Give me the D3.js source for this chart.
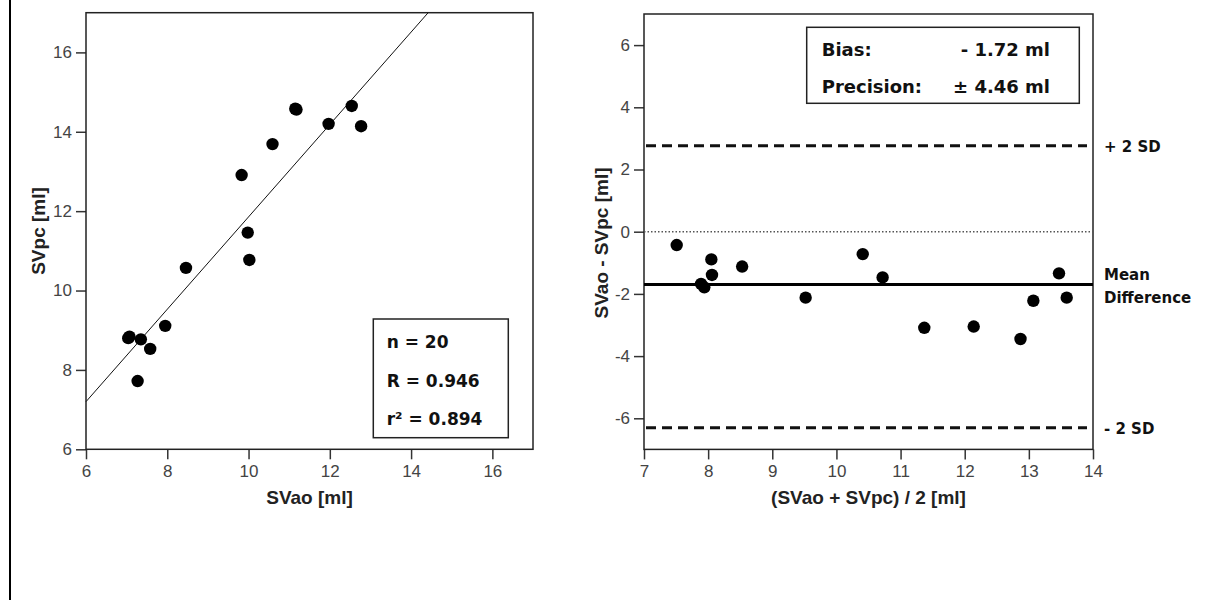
<!DOCTYPE html>
<html>
<head>
<meta charset="utf-8">
<script src="https://cdn.jsdelivr.net/npm/d3@7"></script>
<style>
  body { margin: 0; background: #fff; }
  svg { display: block; }
  .title { font-family: "Liberation Sans", Arial, sans-serif; font-size: 19px; font-weight: bold; fill: #222; }
  .note { font-family: "DejaVu Sans", sans-serif; font-weight: bold; fill: #111; }
</style>
</head>
<body>
<svg width="1208" height="600"></svg>
<script>
// scatter: SVao vs SVpc
var svao = [7.04, 7.07, 7.35, 7.58, 7.27, 7.95, 8.46, 9.83, 9.98, 10.02, 10.59, 11.15, 11.18, 11.97, 12.54, 12.77];
var svpc = [8.80, 8.84, 8.77, 8.53, 7.72, 9.11, 10.57, 12.91, 11.46, 10.77, 13.69, 14.58, 14.56, 14.20, 14.65, 14.14];
var fitLine = [[6, 7.2], [14.42, 17]];
var scatterTicks = [6, 8, 10, 12, 14, 16];
var statsText = ["n = 20", "R = 0.946", "r\u00b2 = 0.894"];

// bland-altman
var baMean = [7.51, 7.89, 7.94, 8.05, 8.06, 8.53, 9.52, 10.41, 10.72, 11.37, 12.14, 12.87, 13.07, 13.47, 13.59];
var baDiff = [-0.43, -1.68, -1.79, -0.89, -1.39, -1.12, -2.12, -0.72, -1.47, -3.09, -3.05, -3.45, -2.22, -1.34, -2.12];
var baXTicks = [7, 8, 9, 10, 11, 12, 13, 14];
var baYTicks = [-6, -4, -2, 0, 2, 4, 6];
var bias = -1.7;
var upperSD = 2.76;
var lowerSD = -6.3;

var svg = d3.select("svg");

function plain(d) { return String(d); }

function styleAxis(g) {
  g.select(".domain").remove();
  g.selectAll(".tick line").attr("stroke", "#333").attr("stroke-width", 1.5);
  g.selectAll(".tick text")
     .attr("fill", "#444")
     .style("font-family", "'Liberation Sans', Arial, sans-serif")
     .style("font-size", "17px");
}

// left border line of the figure
svg.append("line")
   .attr("x1", 10).attr("x2", 10).attr("y1", 0).attr("y2", 600)
   .attr("stroke", "#000").attr("stroke-width", 2);

// ---------- left panel ----------
var x1 = d3.scaleLinear().domain([6, 17]).range([86, 533]);
var y1 = d3.scaleLinear().domain([6, 17]).range([449.3, 12.7]);

var g1 = svg.append("g");

g1.append("g")
   .attr("transform", "translate(0,449.3)")
   .call(d3.axisBottom(x1).tickValues(scatterTicks).tickFormat(plain).tickSize(10).tickPadding(6))
   .call(styleAxis);

g1.append("g")
   .attr("transform", "translate(86,0)")
   .call(d3.axisLeft(y1).tickValues(scatterTicks).tickFormat(plain).tickSize(10).tickPadding(4))
   .call(styleAxis);

g1.append("rect")
   .attr("x", x1(6)).attr("y", y1(17))
   .attr("width", x1(17) - x1(6)).attr("height", y1(6) - y1(17))
   .attr("fill", "none").attr("stroke", "#222").attr("stroke-width", 1.5);

g1.append("path")
   .datum(fitLine)
   .attr("d", d3.line().x(function(d) { return x1(d[0]); }).y(function(d) { return y1(d[1]); }))
   .attr("stroke", "#111").attr("stroke-width", 1).attr("fill", "none");

g1.selectAll("circle")
   .data(svao)
   .enter()
   .append("circle")
   .attr("cx", function(d) { return x1(d); })
   .attr("cy", function(d, i) { return y1(svpc[i]); })
   .attr("r", 6.2)
   .attr("fill", "#000");

g1.append("rect")
   .attr("x", 373.3).attr("y", 319)
   .attr("width", 135).attr("height", 118.7)
   .attr("fill", "#fff").attr("stroke", "#222").attr("stroke-width", 1.5);

g1.selectAll("text.stat")
   .data(statsText)
   .enter()
   .append("text")
   .attr("class", "note stat")
   .attr("x", 386.7)
   .attr("y", function(d, i) { return 348 + i * 38.5; })
   .style("font-size", "17px")
   .text(function(d) { return d; });

g1.append("text")
   .attr("class", "title")
   .attr("x", 309.5).attr("y", 504)
   .attr("text-anchor", "middle")
   .text("SVao [ml]");

g1.append("text")
   .attr("class", "title")
   .attr("transform", "translate(45,231) rotate(-90)")
   .attr("text-anchor", "middle")
   .text("SVpc [ml]");

// ---------- right panel ----------
var x2 = d3.scaleLinear().domain([7, 14]).range([644, 1093]);
var y2 = d3.scaleLinear().domain([-7, 7]).range([449.4, 14]);

var g2 = svg.append("g");

g2.append("g")
   .attr("transform", "translate(0,449.4)")
   .call(d3.axisBottom(x2).tickValues(baXTicks).tickFormat(plain).tickSize(10).tickPadding(6))
   .call(styleAxis);

g2.append("g")
   .attr("transform", "translate(644,0)")
   .call(d3.axisLeft(y2).tickValues(baYTicks).tickFormat(plain).tickSize(10).tickPadding(4))
   .call(styleAxis);

g2.append("rect")
   .attr("x", x2(7)).attr("y", y2(7))
   .attr("width", x2(14) - x2(7)).attr("height", y2(-7) - y2(7))
   .attr("fill", "none").attr("stroke", "#222").attr("stroke-width", 1.5);

// zero line (dotted)
g2.append("line")
   .attr("x1", x2(7)).attr("x2", x2(14))
   .attr("y1", y2(0)).attr("y2", y2(0))
   .attr("stroke", "#555").attr("stroke-width", 1.5).attr("stroke-dasharray", "1.5,2");

// limits of agreement (dashed)
[upperSD, lowerSD].forEach(function(v) {
  g2.append("line")
     .attr("x1", x2(7) + 2).attr("x2", x2(14) - 6)
     .attr("y1", y2(v)).attr("y2", y2(v))
     .attr("stroke", "#111").attr("stroke-width", 3).attr("stroke-dasharray", "10,6");
});

// mean difference
g2.append("line")
   .attr("x1", x2(7)).attr("x2", x2(14))
   .attr("y1", y2(bias)).attr("y2", y2(bias))
   .attr("stroke", "#000").attr("stroke-width", 3);

g2.selectAll("circle")
   .data(baMean)
   .enter()
   .append("circle")
   .attr("cx", function(d) { return x2(d); })
   .attr("cy", function(d, i) { return y2(baDiff[i]); })
   .attr("r", 6.2)
   .attr("fill", "#000");

g2.append("rect")
   .attr("x", 806.7).attr("y", 27.3)
   .attr("width", 272.6).attr("height", 76)
   .attr("fill", "#fff").attr("stroke", "#222").attr("stroke-width", 1.5);

g2.append("text").attr("class", "note").attr("x", 821.7).attr("y", 56)
   .style("font-size", "18px").text("Bias:");
g2.append("text").attr("class", "note").attr("x", 1050).attr("y", 56)
   .attr("text-anchor", "end").style("font-size", "18px").text("- 1.72 ml");
g2.append("text").attr("class", "note").attr("x", 821.7).attr("y", 93)
   .style("font-size", "18px").text("Precision:");
g2.append("text").attr("class", "note").attr("x", 1050).attr("y", 93)
   .attr("text-anchor", "end").style("font-size", "18px").text("\u00b1 4.46 ml");

// side labels
g2.append("text").attr("class", "note").attr("x", 1104).attr("y", y2(upperSD) + 6)
   .style("font-size", "15px").text("+ 2 SD");
g2.append("text").attr("class", "note").attr("x", 1104).attr("y", 280)
   .style("font-size", "15px").text("Mean");
g2.append("text").attr("class", "note").attr("x", 1104).attr("y", 303)
   .style("font-size", "15px").text("Difference");
g2.append("text").attr("class", "note").attr("x", 1104).attr("y", y2(lowerSD) + 6)
   .style("font-size", "15px").text("- 2 SD");

g2.append("text")
   .attr("class", "title")
   .attr("x", 868.5).attr("y", 504)
   .attr("text-anchor", "middle")
   .text("(SVao + SVpc) / 2 [ml]");

g2.append("text")
   .attr("class", "title")
   .attr("transform", "translate(608,243) rotate(-90)")
   .attr("text-anchor", "middle")
   .text("SVao - SVpc [ml]");
</script>
</body>
</html>
